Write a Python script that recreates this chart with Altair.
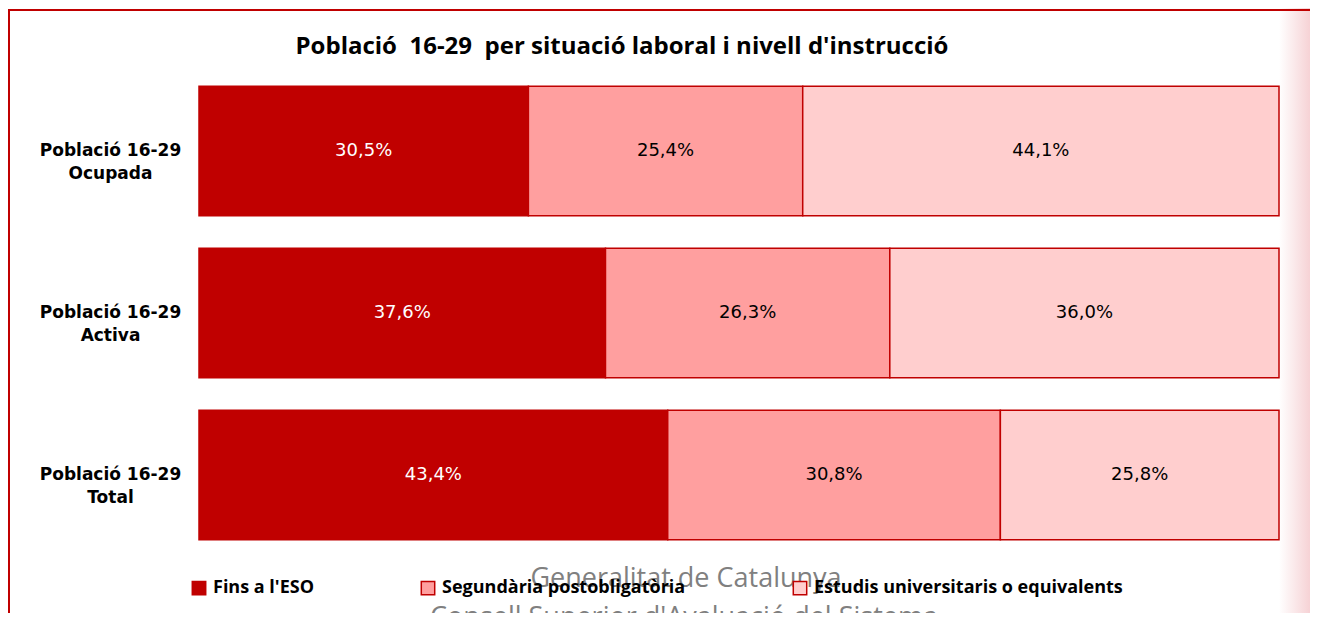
import altair as alt
import pandas as pd

# ---- data ----
groups = ["Població 16-29|Ocupada", "Població 16-29|Activa", "Població 16-29|Total"]
levels = ["Fins a l'ESO", "Segundària postobligatòria", "Estudis universitaris o equivalents"]
fins_eso = [30.5, 37.6, 43.4]
secundaria = [25.4, 26.3, 30.8]
universitaris = [44.1, 36.0, 25.8]
colors = ["#C00000", "#FF9F9F", "#FFCECE"]
label_colors = ["#FFFFFF", "#000000", "#000000"]
title_text = "Població\u00a0 16-29\u00a0 per situació laboral i nivell d'instrucció"
watermark = ["Generalitat de Catalunya", "Consell Superior d'Avaluació del Sistema"]

rows = []
for gi, g in enumerate(groups):
    for li, (lev, series) in enumerate(zip(levels, [fins_eso, secundaria, universitaris])):
        rows.append({"grup": g, "nivell": lev, "ordre": li, "valor": series[gi],
                     "tcol": label_colors[li]})
df = pd.DataFrame(rows)

W, H = 1080, 486
PL, PT, PR, PB = 191, 62, 31, 57

y_enc = alt.Y("grup:N", sort=groups, title=None,
              scale=alt.Scale(paddingInner=0.2, paddingOuter=0.1),
              axis=alt.Axis(labelExpr="split(datum.label, '|')", labelAlign="center",
                            labelBaseline="middle", labelPadding=89, ticks=False,
                            domain=False, labelFont="DejaVu Sans", labelFontWeight="bold",
                            labelFontSize=17, labelColor="#000000", labelLineHeight=23,
                            labelLimit=300))

bars = alt.Chart(df).mark_bar(stroke="#C00000", strokeWidth=1.5).encode(
    x=alt.X("valor:Q", stack="normalize", axis=None, scale=alt.Scale(domain=[0, 1], nice=False)),
    y=y_enc,
    color=alt.Color("nivell:N", sort=levels,
                    scale=alt.Scale(domain=levels, range=colors),
                    legend=alt.Legend(title=None, orient="none", legendX=-9, legendY=509,
                                      direction="horizontal", symbolType="square",
                                      symbolSize=180, symbolStrokeColor="#C00000",
                                      symbolStrokeWidth=1.5, labelFont="Open Sans",
                                      labelFontWeight="bold", labelFontSize=18,
                                      labelColor="#000000", columnPadding=104,
                                      labelOffset=5, labelLimit=400)),
    order=alt.Order("ordre:Q"),
)

labels = alt.Chart(df).transform_stack(
    stack="valor", groupby=["grup"], sort=[alt.SortField("ordre")], as_=["v0", "v1"],
    offset="normalize"
).transform_calculate(
    mid="(datum.v0 + datum.v1) / 2",
    txt="replace(format(datum.valor, '.1f'), '.', ',') + '%'",
).mark_text(font="DejaVu Sans", fontSize=18, align="center", baseline="middle").encode(
    x=alt.X("mid:Q", scale=alt.Scale(domain=[0, 1], nice=False)),
    y=alt.Y("grup:N", sort=groups),
    text="txt:N",
    color=alt.Color("tcol:N", scale=None, legend=None),
)

one = alt.Data(values=[{}])

title = alt.Chart(one).mark_text(text=title_text, font="Open Sans", fontWeight="bold",
                                 fontSize=24, align="center", baseline="middle",
                                 color="#000000").encode(
    x=alt.value(423), y=alt.value(-23))

wm1 = alt.Chart(one).mark_text(text=watermark[0], font="Open Sans", fontSize=27,
                               align="center", baseline="alphabetic", color="#808080").encode(
    x=alt.value(487), y=alt.value(517))
wm2 = alt.Chart(one).mark_text(text=watermark[1], font="Open Sans", fontSize=27,
                               align="center", baseline="alphabetic", color="#808080").encode(
    x=alt.value(485), y=alt.value(556))

right_glow = alt.Chart(one).mark_rect(
    fill=alt.LinearGradient(gradient="linear", x1=0, x2=1, y1=0, y2=0,
                            stops=[alt.GradientStop(color="#FFFFFF", offset=0),
                                   alt.GradientStop(color="#F6D2D5", offset=1)])
).encode(x=alt.value(W), x2=alt.value(W + PR), y=alt.value(-PT), y2=alt.value(H + PB))

frame_left = alt.Chart(one).mark_rule(color="#C00000", strokeWidth=2).encode(
    x=alt.value(-PL + 1), y=alt.value(-60), y2=alt.value(H + PB))
frame_top = alt.Chart(one).mark_rule(color="#C00000", strokeWidth=2).encode(
    x=alt.value(-PL), x2=alt.value(W + PR), y=alt.value(-60))

chart = alt.layer(right_glow, bars, labels, title, wm1, wm2, frame_left, frame_top).properties(
    width=W, height=H,
    autosize=alt.AutoSizeParams(type="none"),
    padding={"left": PL, "top": PT, "right": PR, "bottom": PB},
    background="#FFFFFF",
).configure_view(stroke=None).resolve_scale(color="independent")

chart.save("out.html", embed_options={"renderer": "svg", "actions": False})
